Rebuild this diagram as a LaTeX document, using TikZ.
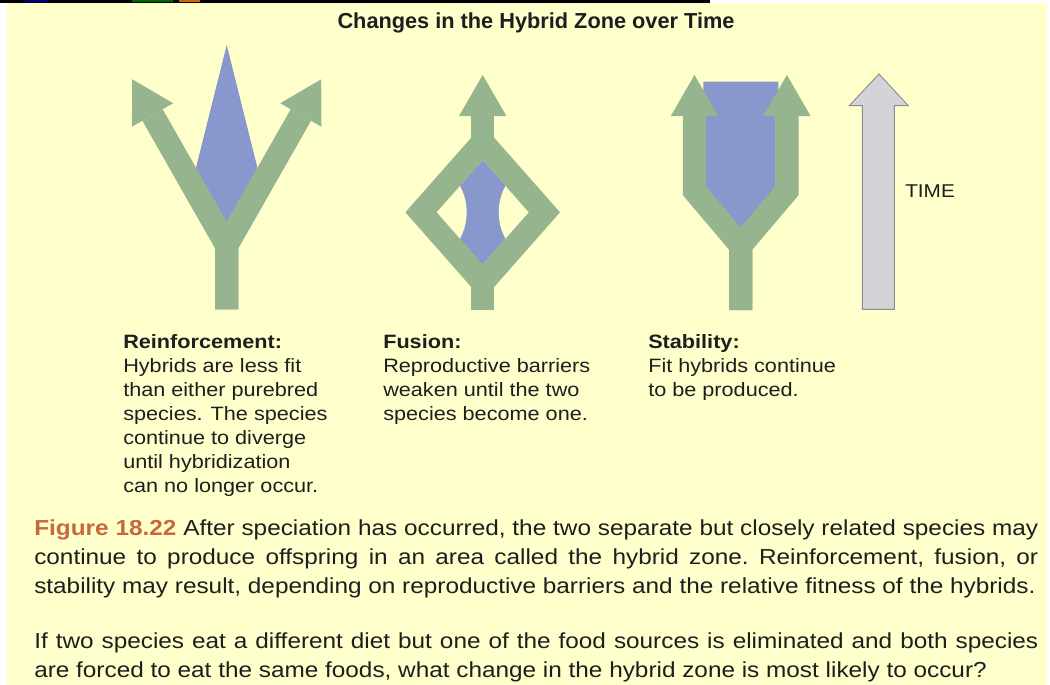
\documentclass[tikz,border=0pt]{standalone}
\usepackage{fontspec}
\setmainfont{Liberation Sans}
\newfontfamily\labelfont{Liberation Sans}[FakeStretch=1.12]
\usetikzlibrary{arrows.meta}
\definecolor{bgyellow}{RGB}{255,255,204}
\definecolor{lineagegreen}{RGB}{150,181,143}
\definecolor{hybridblue}{RGB}{136,152,204}
\definecolor{timefill}{RGB}{210,212,216}
\definecolor{timeedge}{RGB}{140,140,140}
\definecolor{figorange}{RGB}{200,105,60}
\definecolor{inktext}{RGB}{30,30,30}
\tikzset{
  lineage/.style={draw=lineagegreen, line width=17.5pt, line join=miter},
  lineagetip/.style={lineage, -{Triangle[width=35.6pt,length=30.8pt,line width=0pt]}},
  zone/.style={fill=hybridblue},
  timearrow/.style={fill=timefill, draw=timeedge, line width=0.7pt, line join=miter},
  legend/.style={anchor=north west, inner sep=0pt, align=left, text=inktext,
    font=\labelfont\fontsize{14.5}{18}\selectfont},
  caption/.style={anchor=north west, inner sep=0pt, text width=753pt, align=justify,
    text=inktext, font=\labelfont\fontsize{16.3}{21.75}\selectfont\frenchspacing},
}
\begin{document}
\begin{tikzpicture}[x=0.75pt,y=-0.75pt]
\useasboundingbox (0,0) rectangle (1050,685);
\fill[white] (0,0) rectangle (1050,685);
\fill[bgyellow] (7,3) rectangle (1047,685);
\fill[black] (0,0) rectangle (710,3);
\fill[blue!50!black] (25,0) rectangle (48,2);
\fill[green!40!black] (132,0) rectangle (173,2);
\fill[orange!80!black] (179,0) rectangle (200,2);

\node[text=inktext, font=\bfseries\fontsize{16.3}{19}\selectfont] (title) at (536,23) {Changes in the Hybrid Zone over Time};

% reinforcement
\coordinate (rfoot) at (226.7,309.3);
\coordinate (rfork) at (226.7,245.3);
\fill[zone] (226.7,45) -- (192.9,180) -- (226.7,235) -- (260.5,180) -- cycle;
\draw[lineagetip] (rfoot) -- (rfork) -- (132.2,79.3);
\draw[lineagetip] (rfoot) -- (rfork) -- (321.2,79.3);

% fusion
\begin{scope}
\clip (482.7,159.9) -- (528.95,212.3) -- (482.7,264.7) -- (436.45,212.3) -- cycle;
\fill[zone] (430,150) rectangle (540,275);
\fill[bgyellow] (411.7,212.3) circle (55) (553.7,212.3) circle (55);
\end{scope}
\coordinate (ftop) at (482.7,142.3);
\coordinate (fbottom) at (482.7,282.3);
\draw[lineage] (ftop) -- (544.45,212.3) -- (fbottom) -- (420.95,212.3) -- cycle;
\draw[lineage] (482.7,310) -- (fbottom);
\draw[lineagetip] (ftop) -- (482.7,75);

% stability
\coordinate (sfoot) at (740.7,310);
\coordinate (sfork) at (740.7,245.4);
\fill[zone] (703.3,81.7) -- (778.3,81.7) -- (778.3,195) -- (741,240) -- (703.3,195) -- cycle;
\draw[lineagetip] (sfoot) -- (sfork) -- (694.5,190.9) -- (694.5,75);
\draw[lineagetip] (sfoot) -- (sfork) -- (786.9,190.9) -- (786.9,75);

% time
\draw[timearrow] (862.3,309.3) -- (862.3,105.7) -- (849.3,105.7) -- (879,74) -- (908.3,105.7) -- (894.3,105.7) -- (894.3,309.3) -- cycle;
\node[anchor=west, inner sep=0pt, text=inktext, font=\labelfont\fontsize{13.9}{17}\selectfont] (timelabel) at (905,191) {TIME};

\node[legend] (reinf) at (123,334) {\textbf{Reinforcement:}\\Hybrids are less fit\\than either purebred\\species. The species\\continue to diverge\\until hybridization\\can no longer occur.};
\node[legend] (fusion) at (383,334) {\textbf{Fusion:}\\Reproductive barriers\\weaken until the two\\species become one.};
\node[legend] (stab) at (648,334) {\textbf{Stability:}\\Fit hybrids continue\\to be produced.};

\node[caption] (figcap) at (34,519) {\textcolor{figorange}{\textbf{Figure 18.22}} After speciation has occurred, the two separate but closely related species may\linebreak continue to produce offspring in an area called the hybrid zone. Reinforcement, fusion, or\linebreak stability may result, depending on reproductive barriers and the relative fitness of the hybrids.};
\node[caption] (question) at (34,632) {If two species eat a different diet but one of the food sources is eliminated and both species\linebreak are forced to eat the same foods, what change in the hybrid zone is most likely to occur?};
\end{tikzpicture}
\end{document}
